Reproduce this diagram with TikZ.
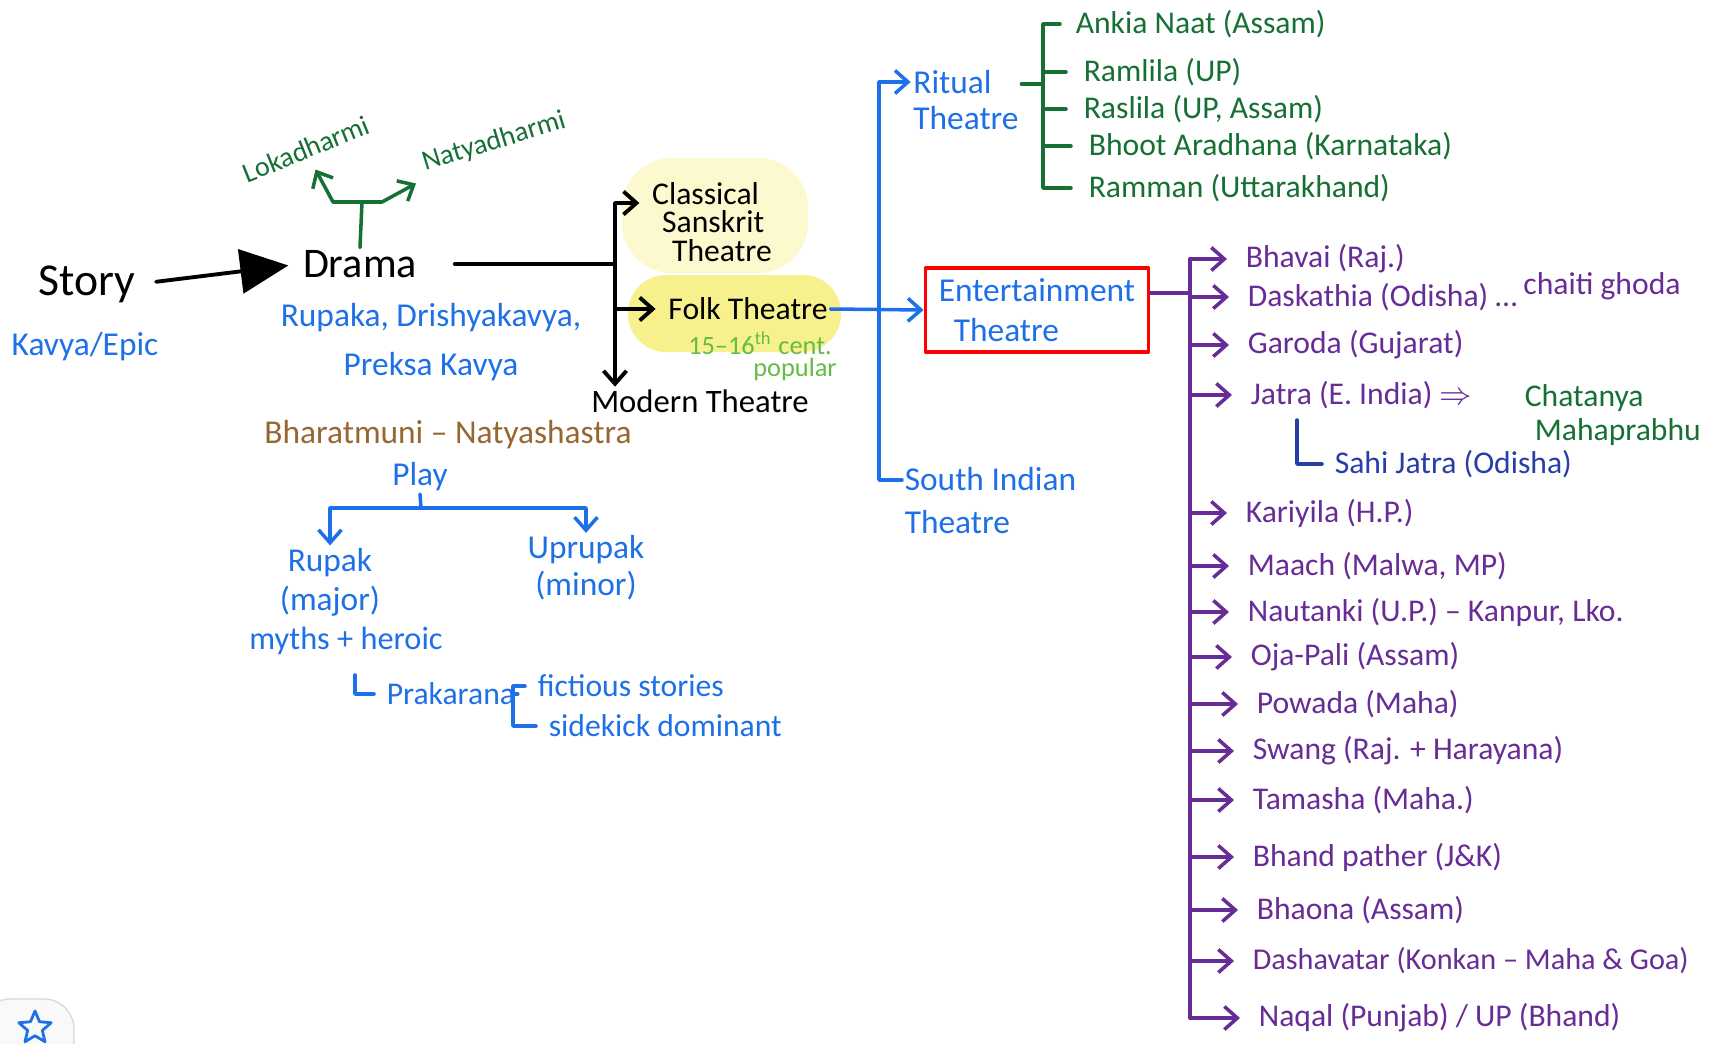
\documentclass[tikz,border=0pt]{standalone}
\usepackage{fontspec}
\setmainfont{Carlito}
\usetikzlibrary{arrows.meta,positioning,shapes.geometric}

\definecolor{penblue}{RGB}{30,112,232}
\definecolor{pengreen}{RGB}{22,112,52}
\definecolor{penpurple}{RGB}{104,44,150}
\definecolor{penbrown}{RGB}{152,102,48}
\definecolor{penlime}{RGB}{100,188,70}
\definecolor{pennavy}{RGB}{38,62,168}
\definecolor{hlpale}{RGB}{251,249,205}
\definecolor{hlyellow}{RGB}{246,241,140}

\newcommand{\fsz}[2]{\fontsize{#1}{#2}\selectfont}

\tikzset{
  lbl/.style={inner sep=0.6pt, font=\fsz{9.5}{11.5}},
  item/.style={lbl, anchor=west, font=\fsz{9}{11}},
  barb/.style={-{Straight Barb[length=1.3mm,width=2.3mm]}},
  kline/.style={line width=1.1pt},
  bline/.style={penblue, line width=1pt},
  gline/.style={pengreen, line width=1pt},
  pline/.style={penpurple, line width=1pt},
}

\begin{document}
\begin{tikzpicture}[x=0.1mm, y=-0.1mm, line join=round, line cap=round]
\useasboundingbox (0,0) rectangle (1712,1044);
\fill[white] (0,0) rectangle (1712,1044);

% highlighter marks
\fill[hlpale, rounded corners=5mm] (622,158) rectangle (808,273);
\fill[hlyellow, rounded corners=3.8mm] (628,275) rectangle (841,352);

% story -> drama
\node[lbl, font=\fsz{13}{15}] (story) at (87,284) {Story};
\node[lbl, text=penblue] (kavya) at (85,347) {Kavya/Epic};
\node[lbl, font=\fsz{12}{14}] (drama) at (360,264) {Drama};
\draw[kline, -{Triangle[length=4.8mm,width=4.4mm]}, shorten <=1.8mm, shorten >=1.2mm] (story.east) -- (drama.west);
\node[lbl, text=penblue, align=center, font=\fsz{9.5}{14}] (rupaka) at (431,342) {Rupaka, Drishyakavya,\\Preksa Kavya};

\node[lbl, text=pengreen, font=\fsz{8}{10}, rotate=22] (loka) at (306,149) {Lokadharmi};
\node[lbl, text=pengreen, font=\fsz{8}{10}, rotate=17] (natya) at (494,142) {Natyadharmi};
\coordinate (tjoin) at (362,202);
\draw[gline] (drama.north) -- (tjoin);
\draw[gline, barb, shorten >=1mm] (tjoin) -- ++(-29,0) -- (loka.south);
\draw[gline, barb, shorten >=1mm] (tjoin) -- ++(20,0) -- (natya.south west);

% kinds of theatre
\coordinate (split) at (615,264);
\node[lbl, align=left, font=\fsz{9}{8.2}] (classical) at (712,222) {Classical\\\hspace*{1mm}Sanskrit\\\hspace*{2mm}Theatre};
\node[lbl, font=\fsz{9}{11}] (folk) at (748,309) {Folk Theatre};
\node[lbl, text=penlime, font=\fsz{7.5}{8}, inner sep=0pt] (cent) at (760,343) {15--16\textsuperscript{th} cent.};
\node[lbl, text=penlime, font=\fsz{7.5}{8}, inner sep=0pt] (popular) at (795,369) {popular};
\node[lbl, font=\fsz{9.3}{11}] (modern) at (700,401) {Modern Theatre};
\draw[kline, shorten <=3.5mm] (drama.east) -- (split);
\draw[kline, barb, shorten >=1mm] (split) |- ([yshift=1.9mm]classical.west);
\draw[kline, barb, shorten >=1mm] (split) |- (folk.west);
\draw[kline, barb] (split) -- (split |- modern.north);

% folk theatre
\node[lbl, text=penblue, draw=red, line width=1.1pt, minimum width=22.3mm, minimum height=8.4mm, align=left, inner sep=2pt] (ent) at (1037,310) {Entertainment\\\hspace*{1.5mm}Theatre};
\draw[bline, barb] (folk.east) -- (ent.west);
\node[lbl, text=penblue, align=left, font=\fsz{9.5}{10.5}] (ritual) at (966,100) {Ritual\\Theatre};
\node[lbl, text=penblue, align=left, anchor=north west, font=\fsz{9.5}{12}] (south) at (902,465) {South Indian\\Theatre};
\coordinate (bvbot) at (879,480);
\draw[bline, barb] (bvbot -| south.west) -- (bvbot) |- ([yshift=1.8mm]ritual.west);

% ritual theatre
\coordinate (gbar) at (1043,27);
\node[item, text=pengreen] (ankia) at (1073,24) {Ankia Naat (Assam)};
\node[item, text=pengreen] (ramlila) at (1081,72) {Ramlila (UP)};
\node[item, text=pengreen] (raslila) at (1081,109) {Raslila (UP, Assam)};
\node[item, text=pengreen] (bhoot) at (1086,146) {Bhoot Aradhana (Karnataka)};
\node[item, text=pengreen] (ramman) at (1086,188) {Ramman (Uttarakhand)};
\coordinate (rj) at ([yshift=1.6mm]ritual.east);
\draw[gline] (rj) -- (rj -| gbar);
\draw[gline, shorten <=1.3mm, shorten >=1.5mm] (ankia.west) -- (gbar |- ankia.west) -- (gbar |- ramman.west) -- (ramman.west);
\draw[gline, shorten >=1.5mm] (gbar |- ramlila.west) -- (ramlila.west);
\draw[gline, shorten >=1.5mm] (gbar |- raslila.west) -- (raslila.west);
\draw[gline, shorten >=1.5mm] (gbar |- bhoot.west) -- (bhoot.west);

% entertainment theatre
\coordinate (pbar) at (1190,293);
\coordinate (ej) at ([yshift=1.7mm]ent.east);
\draw[pline] (ej) -- (ej -| pbar);
\node[item, text=penpurple] (bhavai) at (1243,259) {Bhavai (Raj.)};
\node[item, text=penpurple] (dask) at (1245,297) {Daskathia (Odisha) \dots};
\node[lbl, text=penpurple, font=\fsz{9}{11}] (chaiti) at (1602,286) {chaiti ghoda};
\node[item, text=penpurple] (garoda) at (1245,345) {Garoda (Gujarat)};
\node[item, text=penpurple] (jatra) at (1248,395) {Jatra (E. India) $\Rightarrow$};
\node[lbl, text=pengreen, align=left, anchor=west, font=\fsz{9}{9.5}] (chaitanya) at (1522,415) {Chatanya\\\hspace*{1mm}Mahaprabhu};
\node[item, text=pennavy] (sahi) at (1332,464) {Sahi Jatra (Odisha)};
\node[item, text=penpurple] (kariyila) at (1243,513) {Kariyila (H.P.)};
\node[item, text=penpurple] (maach) at (1245,566) {Maach (Malwa, MP)};
\node[item, text=penpurple] (nautanki) at (1245,612) {Nautanki (U.P.) -- Kanpur, Lko.};
\node[item, text=penpurple] (oja) at (1248,657) {Oja-Pali (Assam)};
\node[item, text=penpurple] (powada) at (1254,704) {Powada (Maha)};
\node[item, text=penpurple] (swang) at (1250,751) {Swang (Raj. + Harayana)};
\node[item, text=penpurple] (tamasha) at (1250,800) {Tamasha (Maha.)};
\node[item, text=penpurple] (bhand) at (1250,857) {Bhand pather (J\&K)};
\node[item, text=penpurple] (bhaona) at (1254,910) {Bhaona (Assam)};
\node[item, text=penpurple, font=\fsz{8.6}{10}] (dasha) at (1250,961) {Dashavatar (Konkan -- Maha \& Goa)};
\node[item, text=penpurple] (naqal) at (1256,1018) {Naqal (Punjab) / UP (Bhand)};
\draw[pline] (pbar |- bhavai.west) -- (pbar |- naqal.west);
\draw[pline, barb, shorten >=1.6mm] (pbar |- bhavai.west) -- (bhavai.west);
\draw[pline, barb, shorten >=1.6mm] (pbar |- dask.west) -- (dask.west);
\draw[pline, barb, shorten >=1.6mm] (pbar |- garoda.west) -- (garoda.west);
\draw[pline, barb, shorten >=1.6mm] (pbar |- jatra.west) -- (jatra.west);
\draw[pline, barb, shorten >=1.6mm] (pbar |- kariyila.west) -- (kariyila.west);
\draw[pline, barb, shorten >=1.6mm] (pbar |- maach.west) -- (maach.west);
\draw[pline, barb, shorten >=1.6mm] (pbar |- nautanki.west) -- (nautanki.west);
\draw[pline, barb, shorten >=1.6mm] (pbar |- oja.west) -- (oja.west);
\draw[pline, barb, shorten >=1.6mm] (pbar |- powada.west) -- (powada.west);
\draw[pline, barb, shorten >=1.6mm] (pbar |- swang.west) -- (swang.west);
\draw[pline, barb, shorten >=1.6mm] (pbar |- tamasha.west) -- (tamasha.west);
\draw[pline, barb, shorten >=1.6mm] (pbar |- bhand.west) -- (bhand.west);
\draw[pline, barb, shorten >=1.6mm] (pbar |- bhaona.west) -- (bhaona.west);
\draw[pline, barb, shorten >=1.6mm] (pbar |- dasha.west) -- (dasha.west);
\draw[pline, barb, shorten >=1.6mm] (pbar |- naqal.west) -- (naqal.west);
\coordinate (sj) at (1297,420);
\draw[pennavy, line width=1pt, shorten >=1mm] (sj) |- (sahi.west);

% natyashastra
\node[lbl, text=penbrown] (bharat) at (448,435) {Bharatmuni -- Natyashastra};
\node[lbl, text=penblue] (play) at (420,477) {Play};
\node[lbl, text=penblue, align=center, font=\fsz{9.5}{11}] (rupak) at (330,582) {Rupak\\(major)};
\node[lbl, text=penblue, align=center, font=\fsz{9.5}{10.5}] (uprupak) at (586,568) {Uprupak\\(minor)};
\coordinate (pjoin) at (421,508);
\draw[bline] (play.south) -- (pjoin);
\draw[bline, barb] (pjoin) -| (rupak.north);
\draw[bline, barb] (pjoin) -| (uprupak.north);
\node[lbl, text=penblue, font=\fsz{9.2}{11}] (myths) at (346,641) {myths + heroic};
\node[lbl, text=penblue, font=\fsz{9}{11}, anchor=west] (prakarana) at (384,694) {Prakarana};
\coordinate (hk) at (355,675);
\draw[bline, shorten >=1mm] (hk) |- (prakarana.west);
\node[item, text=penblue] (fict) at (535,686) {fictious stories};
\node[item, text=penblue] (side) at (546,726) {sidekick dominant};
\coordinate (pbk) at (513,690);
\draw[bline] (prakarana.east) -- (prakarana.east -| pbk);
\draw[bline, shorten <=1mm, shorten >=1mm] (fict.west) -- (fict.west -| pbk) -- (pbk |- side.west) -- (side.west);

% favourite button
\draw[gray!30, fill=gray!5, rounded corners=3mm] (-20,999) rectangle (74,1070);
\node[star, star points=5, star point ratio=2.2, draw=penblue, line width=0.8pt, minimum size=3.4mm, inner sep=0pt] (fav) at (35,1028) {};
\end{tikzpicture}
\end{document}
